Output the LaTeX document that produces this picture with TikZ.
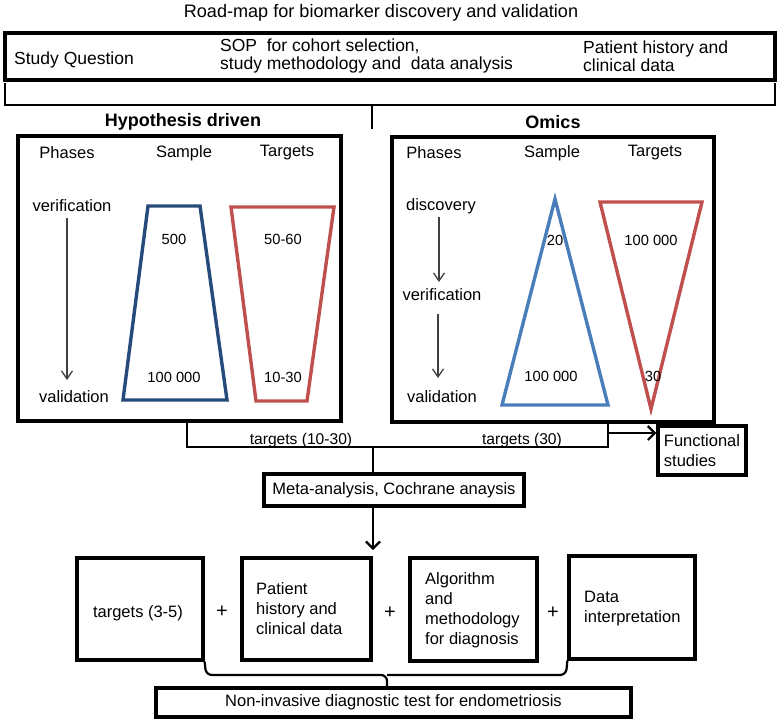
\documentclass[tikz,border=0pt]{standalone}
\usepackage{fontspec}
\setmainfont{Liberation Sans}
\usetikzlibrary{arrows.meta}
\definecolor{dblue}{RGB}{38,74,122}
\definecolor{lblue}{RGB}{74,126,187}
\definecolor{tred}{RGB}{192,80,77}
\tikzset{
  box/.style={draw, line width=3.3pt, inner sep=0pt},
  txt/.style={font=\fontsize{16.5}{20}\selectfont, inner sep=0pt, align=left},
  bigtxt/.style={font=\fontsize{17.5}{18.5}\selectfont, inner sep=0pt, align=left},
  numtxt/.style={font=\fontsize{14.7}{17}\selectfont, inner sep=0pt},
  headtxt/.style={font=\fontsize{18}{20}\selectfont\bfseries, inner sep=0pt},
  conn/.style={line width=2.2pt},
  arr/.style={conn, -{Straight Barb[length=7pt,width=14pt]}},
  parr/.style={line width=1.3pt, draw=black!75, -{Straight Barb[length=8pt,width=11pt]}},
  shapeline/.style={line width=3.4pt, line join=miter}
}
\begin{document}
\begin{tikzpicture}[x=1pt,y=-1pt]
\useasboundingbox (0,0) rectangle (780,724);
% title
\node[font=\fontsize{18.1}{20}\selectfont, inner sep=0pt] (title) at (381,13) {Road-map for biomarker discovery and validation};
% top box
\node[box, minimum width=770pt, minimum height=47pt] (top) at (390,56.5) {};
\node[bigtxt, anchor=west] (sq) at (14,60) {Study Question};
\node[bigtxt, anchor=west] (sop) at (220,56) {SOP\ \ for cohort selection,\\study methodology and\ \ data analysis};
\node[bigtxt, anchor=west] (ph) at (583,56) {Patient history and\\clinical data};
% bracket
\coordinate (bl) at (5,83);
\coordinate (br) at (775,83);
\coordinate (bm) at (372,105);
\coordinate (bmd) at (372,129);
\draw[conn] (bl) -- (bl |- bm) -- (br |- bm) -- (br);
\draw[conn] (bm) -- (bmd);
% headings
\node[headtxt] (hyp) at (183,122) {Hypothesis driven};
\node[headtxt] (omics) at (553,122) {Omics};
% left box
\node[box, minimum width=323pt, minimum height=285pt] (lbox) at (179.5,278.5) {};
\node[txt] (lph) at (67,153) {Phases};
\node[txt] (lsa) at (184,153) {Sample};
\node[txt] (lta) at (287,153) {Targets};
\node[txt] (lver) at (72,206) {verification};
\node[txt] (lval) at (74,397) {validation};
\draw[parr] (67,218) -- (67,380);
\draw[dblue, shapeline] (148,206) -- (200,206) -- (227,400) -- (123,400) -- cycle;
\draw[tred, shapeline] (231,207) -- (334,207) -- (307,401) -- (256,401) -- cycle;
\node[numtxt] (n500) at (174,239) {500};
\node[numtxt] (n1e5a) at (174,377) {100 000};
\node[numtxt] (n5060) at (283,239) {50-60};
\node[numtxt] (n1030) at (283,377) {10-30};
% right box
\node[box, minimum width=322pt, minimum height=285pt] (rbox) at (553,279.5) {};
\node[txt] (rph) at (434,153) {Phases};
\node[txt] (rsa) at (552,153) {Sample};
\node[txt] (rta) at (655,153) {Targets};
\node[txt] (rdis) at (441,206) {discovery};
\node[txt] (rver) at (442,295) {verification};
\node[txt] (rval) at (442,397) {validation};
\draw[parr] (439,217) -- (439,282);
\draw[parr] (438,314) -- (438,378);
\draw[lblue, shapeline] (555,199) -- (608,405) -- (502,405) -- cycle;
\draw[tred, shapeline] (600,202) -- (702,202) -- (651,409) -- cycle;
\node[numtxt] (n20) at (555,240) {20};
\node[numtxt] (n1e5b) at (551,376) {100 000};
\node[numtxt] (n1e5c) at (651,240) {100 000};
\node[numtxt] (n30) at (653,376) {30};
% connectors
\coordinate (cL) at (187,447);
\coordinate (cR) at (608,447);
\coordinate (cM) at (373,447);
\coordinate (cF) at (608,433);
\draw[conn] (cL |- lbox.south) -- (cL) -- (cR) -- (cR |- rbox.south);
\node[font=\fontsize{15.6}{17}\selectfont, inner sep=0pt] (t1030) at (301,440) {targets (10-30)};
\node[font=\fontsize{15.6}{17}\selectfont, inner sep=0pt] (t30) at (522,440) {targets (30)};
\node[box, minimum width=88pt, minimum height=49pt, txt] (func) at (702,450.5) {Functional\\studies};
\draw[arr] (cF) -- (func.west |- cF);
\node[box, minimum width=260pt, minimum height=32pt, txt] (meta) at (394,490) {Meta-analysis, Cochrane anaysis};
\draw[conn] (cM) -- (cM |- meta.north);
\coordinate (aend) at (373,550);
\draw[arr] (cM |- meta.south) -- (aend);
% bottom boxes
\node[box, minimum width=126pt, minimum height=102pt] (b1) at (140,609) {};
\node[box, minimum width=129pt, minimum height=102pt] (b2) at (306.5,609) {};
\node[box, minimum width=127pt, minimum height=103pt] (b3) at (473.5,609.5) {};
\node[box, minimum width=126pt, minimum height=103pt] (b4) at (632,607.5) {};
\node[txt] (b1t) at (138,613) {targets (3-5)};
\node[txt, anchor=west] (b2t) at (256,609) {Patient\\history and\\clinical data};
\node[txt, anchor=west] (b3t) at (425,610.5) {Algorithm\\and\\methodology\\for diagnosis};
\node[txt, anchor=west] (b4t) at (584,609) {Data\\interpretation};
\node[font=\fontsize{20}{20}\selectfont, inner sep=0pt] (p1) at (222,612) {+};
\node[font=\fontsize{20}{20}\selectfont, inner sep=0pt] (p2) at (390,613) {+};
\node[font=\fontsize{20}{20}\selectfont, inner sep=0pt] (p3) at (553,613) {+};
% final
\node[box, minimum width=475pt, minimum height=29pt, txt] (final) at (393.5,702.5) {Non-invasive diagnostic test for endometriosis};
% brace
\coordinate (brL) at (206,675);
\coordinate (brR) at (566,675);
\coordinate (brM) at (387,675);
\draw[conn, rounded corners=6pt] (b1.south east) -- (brL) -- (brM) -- (brM |- final.north);
\draw[conn, rounded corners=6pt] (brM) -- (brR) -- (b4.south west);
\end{tikzpicture}
\end{document}
